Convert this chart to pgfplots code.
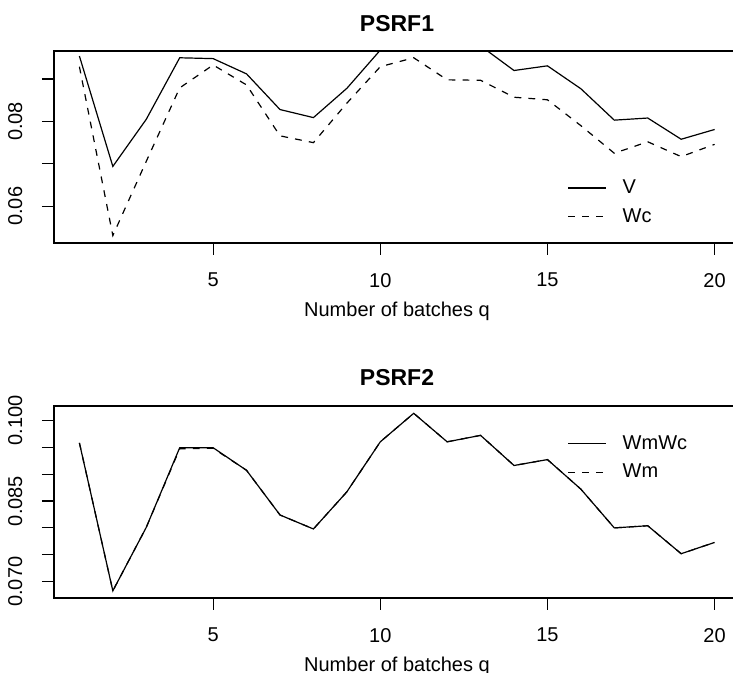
\documentclass[border=0pt]{standalone}
\usepackage{pgfplots}
\pgfplotsset{compat=1.18}
\usepackage{fontspec}
\setmainfont{Liberation Sans}

\pgfplotsset{
  rstyle/.style={
    scale only axis, width=343pt, height=96pt,
    anchor=south west,
    xmin=0.24, xmax=20.76,
    scaled y ticks=false, scaled x ticks=false,
    axis line style={line width=0.6pt},
    every tick/.style={line width=0.6pt, black},
    tick align=outside, major tick length=6pt,
    xtick pos=lower, ytick pos=left,
    xtick={5,10,15,20}, xticklabels={5,10,15,20},
    ticklabel style={font=\fontsize{10}{12}\selectfont},
    xticklabel style={yshift=-5.5pt},
    yticklabel style={xshift=-6.25pt, rotate=90, anchor=south},
    xlabel={Number of batches q},
    xlabel style={font=\fontsize{10}{12}\selectfont, at={(0.5,0)}, anchor=base, yshift=-36.6pt},
    title style={font=\bfseries\fontsize{11.5}{13}\selectfont, at={(0.5,1)}, anchor=center},
    legend cell align=left,
    legend image code/.code={\draw[#1] (0pt,0pt) -- (19pt,0pt);},
    legend style={draw=none, fill=none, font=\fontsize{10}{12}\selectfont,
      anchor=west, inner sep=0pt, column sep=6pt, row sep=2pt},
    solidl/.style={black, line width=0.6pt},
    dashl/.style={black, line width=0.6pt, dash pattern=on 3.4pt off 3.6pt},
  }
}

\begin{document}
\begin{tikzpicture}
\begin{axis}[rstyle, at={(27pt,215pt)},
  title={PSRF1}, title style={yshift=7.75pt},
  ymin=0.05135, ymax=0.0966,
  ytick={0.06,0.07,0.08,0.09}, yticklabels={0.06,,0.08,},
  legend style={at={(0.748,0.212)}}]
\addplot[solidl] coordinates {
(1,0.0954) (2,0.0694) (3,0.0805) (4,0.0950) (5,0.0948) (6,0.0912) (7,0.0828)
(8,0.0809) (9,0.0878) (10,0.0968) (11,0.1010) (12,0.0966) (13,0.0978) (14,0.0920)
(15,0.0931) (16,0.0877) (17,0.0803) (18,0.0808) (19,0.0758) (20,0.0781)};
\addplot[dashl] coordinates {
(1,0.0929) (2,0.0531) (3,0.0706) (4,0.0879) (5,0.0933) (6,0.0886) (7,0.0766)
(8,0.0750) (9,0.0843) (10,0.0929) (11,0.0950) (12,0.0898) (13,0.0897) (14,0.0857)
(15,0.0851) (16,0.0790) (17,0.0725) (18,0.0752) (19,0.0717) (20,0.0746)};
\legend{V,Wc}
\end{axis}

\begin{axis}[rstyle, at={(27pt,37.5pt)},
  title={PSRF2}, title style={yshift=8.25pt},
  ymin=0.06697, ymax=0.10266,
  ytick={0.070,0.075,0.080,0.085,0.090,0.095,0.100},
  yticklabels={0.070,,,0.085,,,0.100},
  legend style={at={(0.748,0.728)}}]
\addplot[solidl] coordinates {
(1,0.0958) (2,0.0683) (3,0.0801) (4,0.0949) (5,0.0949) (6,0.0907) (7,0.0824)
(8,0.0798) (9,0.0867) (10,0.0960) (11,0.1013) (12,0.0960) (13,0.0972) (14,0.0916)
(15,0.0927) (16,0.0872) (17,0.0800) (18,0.0804) (19,0.0752) (20,0.0773)};
\addplot[dashl] coordinates {
(1,0.0958) (2,0.0683) (3,0.0801) (4,0.0947) (5,0.0948) (6,0.0907) (7,0.0824)
(8,0.0798) (9,0.0867) (10,0.0960) (11,0.1013) (12,0.0960) (13,0.0972) (14,0.0916)
(15,0.0927) (16,0.0872) (17,0.0800) (18,0.0804) (19,0.0752) (20,0.0773)};
\legend{WmWc,Wm}
\end{axis}
\pgfresetboundingbox
\useasboundingbox (0pt,0pt) rectangle (366.5pt,336.5pt);
\end{tikzpicture}
\end{document}
